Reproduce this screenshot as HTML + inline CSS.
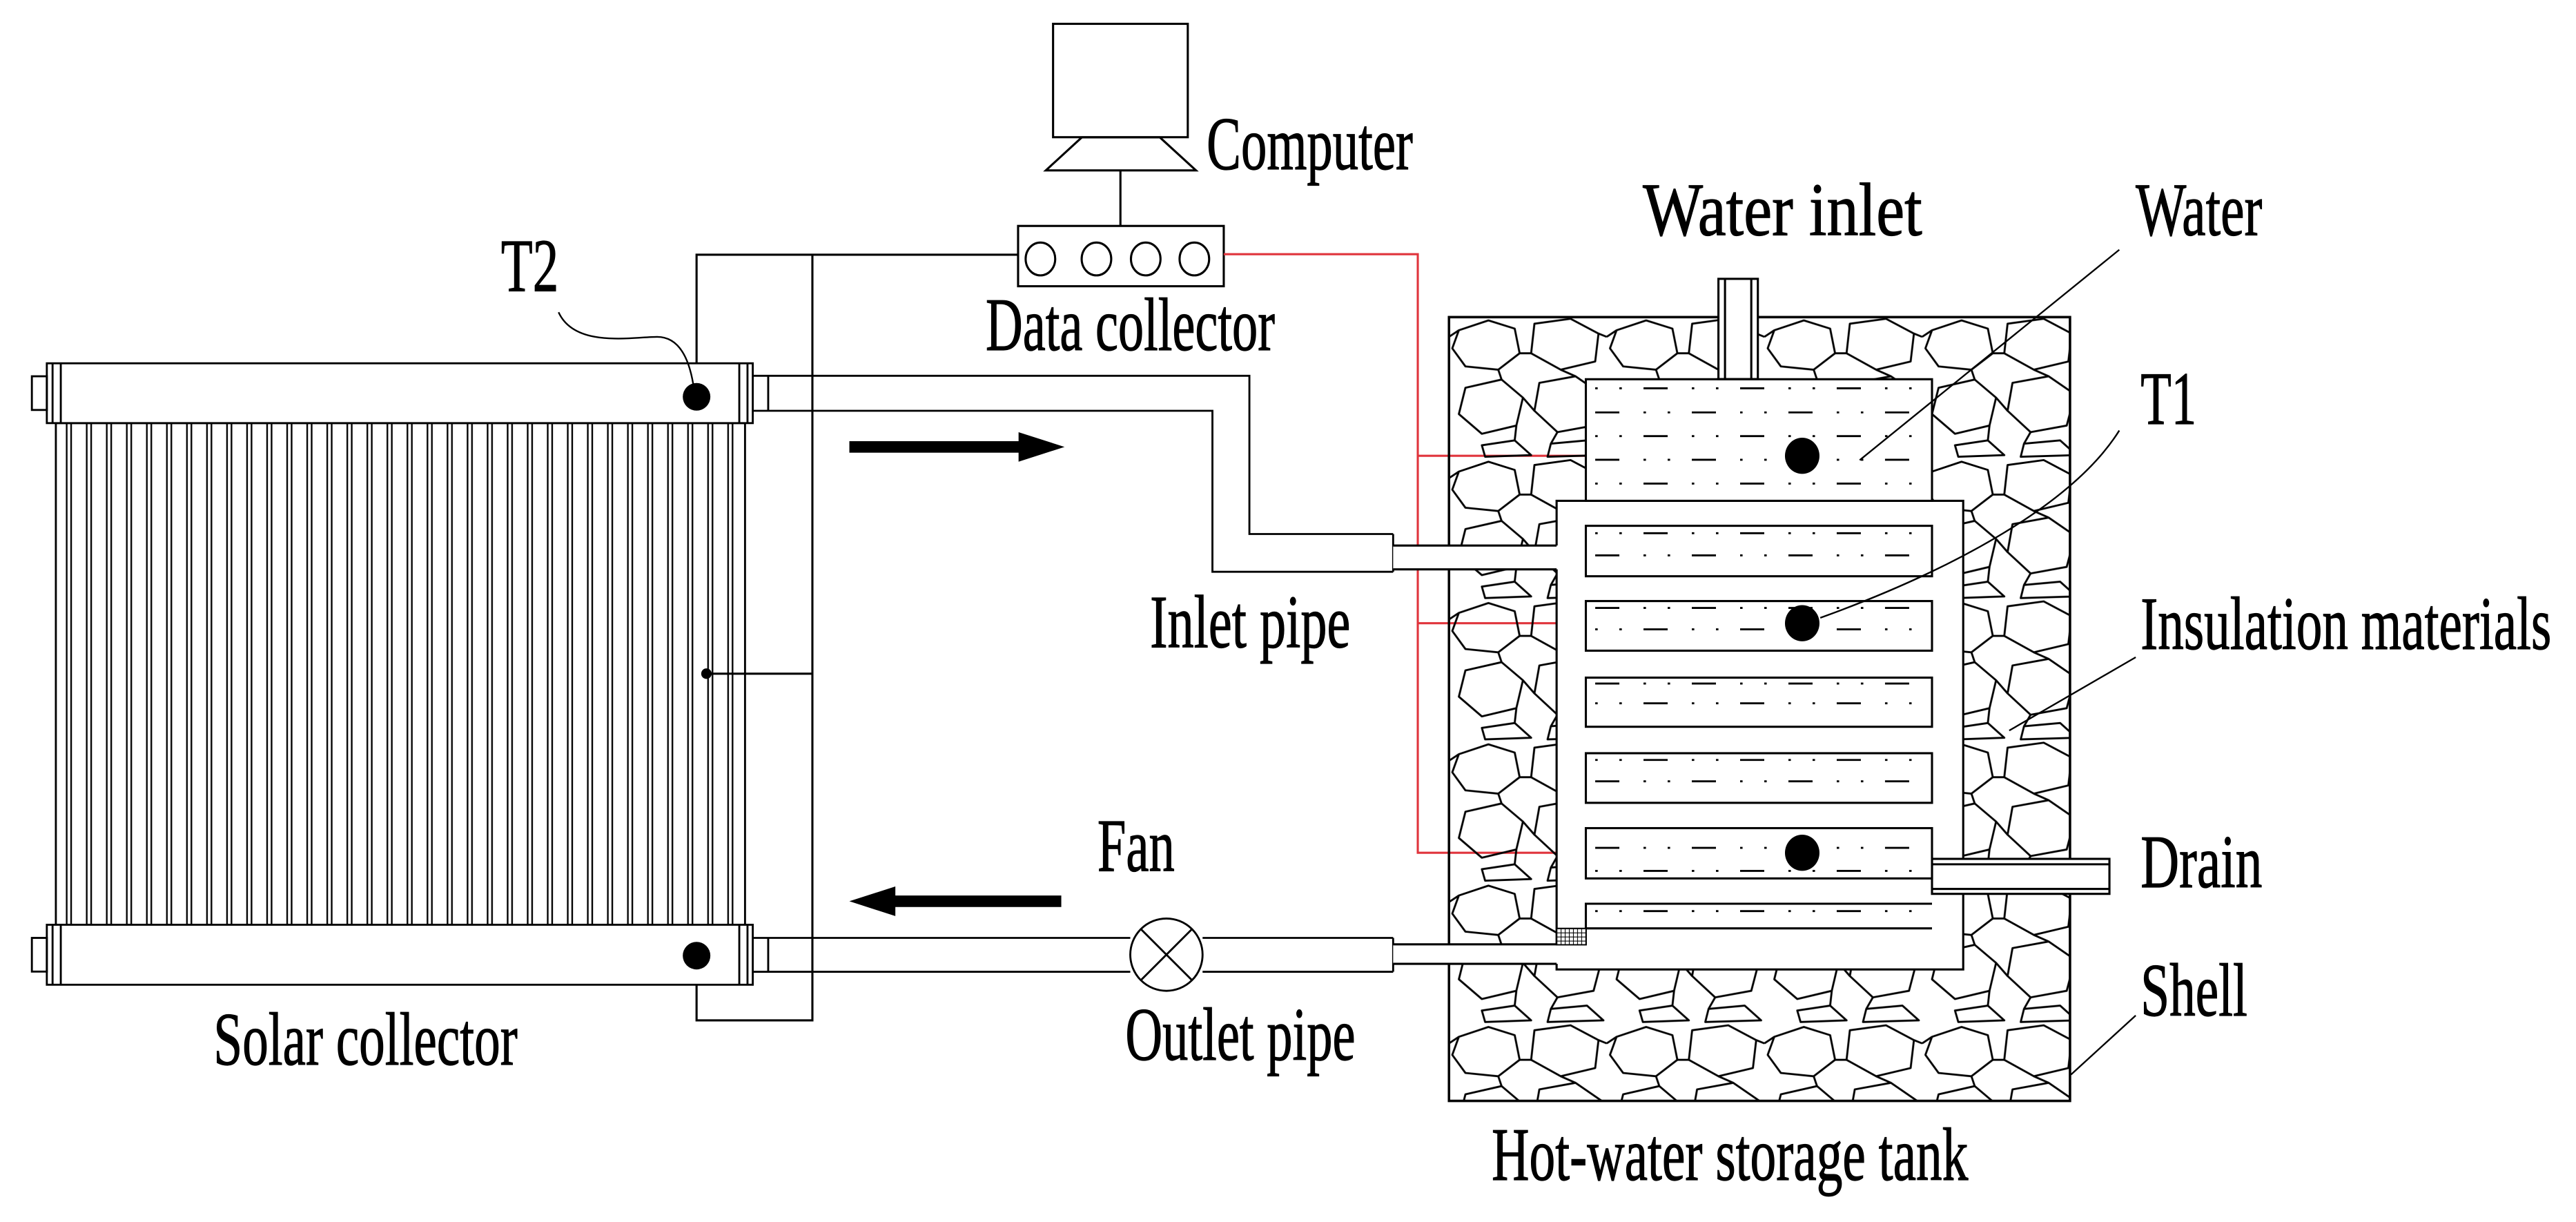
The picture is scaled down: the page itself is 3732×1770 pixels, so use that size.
<!DOCTYPE html>
<html><head><meta charset="utf-8"><style>html,body{margin:0;padding:0;background:#fff}svg{display:block}</style></head>
<body>
<svg width="3732" height="1770" viewBox="0 0 1568 743.7" preserveAspectRatio="none" xmlns="http://www.w3.org/2000/svg">
<defs>
<pattern id="tubes" x="40" y="0" width="12.2" height="20" patternUnits="userSpaceOnUse">
<line x1="0.6" y1="0" x2="0.6" y2="20" stroke="#000" stroke-width="1"/>
<line x1="3.3" y1="0" x2="3.3" y2="20" stroke="#000" stroke-width="1"/>
</pattern>
<pattern id="stone" x="882" y="193" width="96" height="86" patternUnits="userSpaceOnUse">
<g fill="none" stroke="#000" stroke-width="1.2" stroke-linejoin="round">
<polygon points="6,8 24,2 40,7 43,22 30,32 10,30 2,19"/>
<polygon points="52,4 74,1 91,10 89,27 68,32 50,22"/>
<polygon points="10,43 32,38 45,49 41,66 20,71 6,59"/>
<polygon points="55,40 77,36 93,47 88,66 66,70 52,57"/>
<polygon points="20,78 40,75 50,84 22,85"/>
<polygon points="62,77 84,75 94,84 60,85"/>
<line x1="43" y1="22" x2="50" y2="22"/><line x1="30" y1="32" x2="32" y2="38"/>
<line x1="68" y1="32" x2="77" y2="36"/><line x1="45" y1="49" x2="52" y2="57"/>
<line x1="41" y1="66" x2="40" y2="75"/><line x1="66" y1="70" x2="62" y2="77"/>
<line x1="91" y1="10" x2="96" y2="12"/><line x1="0" y1="12" x2="6" y2="8"/>
</g>
</pattern>
<pattern id="hatch" width="2.5" height="2.5" patternUnits="userSpaceOnUse"><rect width="2.5" height="2.5" fill="#fff"/><path d="M0 0H2.5M0 0V2.5" stroke="#000" stroke-width="0.9"/></pattern>
</defs>
<rect width="1568" height="743.7" fill="#fff"/>

<g fill="none" stroke="#000" stroke-width="1.3">
<rect x="641" y="14.5" width="82" height="69"/>
<polygon points="658.5,83.6 706,83.6 728,103.7 636.6,103.7"/>
<line x1="682" y1="103.7" x2="682" y2="137.5"/>
<rect x="619.7" y="137.5" width="125.2" height="36.7"/>
<ellipse cx="633.3" cy="157.6" rx="9" ry="10"/>
<ellipse cx="667.4" cy="157.6" rx="9" ry="10"/>
<ellipse cx="697.4" cy="157.6" rx="9" ry="10"/>
<ellipse cx="727" cy="157.6" rx="9" ry="10"/>
<polyline points="619.7,155 424,155 424,241"/>
<polyline points="494.5,155 494.5,621 424,621 424,582"/>
<line x1="430" y1="410" x2="494.5" y2="410"/>
</g>
<g fill="none" stroke="#e0343c" stroke-width="1.3">
<polyline points="744.9,154.7 863,154.7 863,519 1097,519"/>
<line x1="863" y1="277.4" x2="1097" y2="277.4"/>
<line x1="863" y1="379.3" x2="1097" y2="379.3"/>
</g>

<rect x="34" y="257.5" width="419.5" height="305.3" fill="url(#tubes)"/>
<g fill="none" stroke="#000" stroke-width="1.2">
<rect x="34" y="257.5" width="419.5" height="305.3"/>
<rect x="28.5" y="221.1" width="429.7" height="36.4" fill="#fff"/>
<rect x="28.5" y="562.8" width="429.7" height="36.5" fill="#fff"/>
<path d="M32 221.1V257.5M37 221.1V257.5M450 221.1V257.5M455 221.1V257.5M32 562.8V599.3M37 562.8V599.3M450 562.8V599.3M455 562.8V599.3"/>
<rect x="19.4" y="229" width="9.1" height="20.5"/>
<rect x="19.4" y="570.8" width="9.1" height="20.5"/>
<polyline points="458.2,228.7 760.5,228.7 760.5,325 848,325"/>
<polyline points="458.2,250 738,250 738,348 848,348"/>
<line x1="467.6" y1="228.7" x2="467.6" y2="250"/>
<line x1="848" y1="325" x2="848" y2="348"/>
<line x1="458.2" y1="570.8" x2="688" y2="570.8"/>
<line x1="458.2" y1="591.4" x2="688" y2="591.4"/>
<line x1="732" y1="570.8" x2="848" y2="570.8"/>
<line x1="732" y1="591.4" x2="848" y2="591.4"/>
<line x1="467.6" y1="570.8" x2="467.6" y2="591.4"/>
<line x1="848" y1="570.8" x2="848" y2="591.4"/>
<circle cx="710" cy="581" r="22"/>
<path d="M694.5 565.5L725.5 596.5M725.5 565.5L694.5 596.5"/>
</g>
<circle cx="424" cy="241.5" r="8.4"/>
<circle cx="424" cy="581.6" r="8.4"/>
<circle cx="430" cy="410" r="3.2"/>
<path d="M340 190 C350 212 385 205 400 205 C415 205 420 222 422 234" fill="none" stroke="#000" stroke-width="1"/>

<rect x="517" y="268.5" width="105" height="7"/>
<polygon points="620,263 648,272 620,281"/>
<rect x="543" y="545" width="103" height="7"/>
<polygon points="545,539.5 517,548.5 545,557.5"/>

<rect x="882" y="193" width="378" height="477" fill="url(#stone)" stroke="#000" stroke-width="1.5"/>
<g fill="#fff" stroke="#000" stroke-width="1.3">
<rect x="947.5" y="304.8" width="247.5" height="285.2"/>
<rect x="965.3" y="230.8" width="210.7" height="74"/>
<rect x="1046" y="169.7" width="24" height="61"/>
<line x1="1050" y1="169.7" x2="1050" y2="230.8"/><line x1="1066" y1="169.7" x2="1066" y2="230.8"/>
<rect x="1176" y="522.7" width="108" height="21.3"/>
<line x1="1176" y1="526" x2="1284" y2="526"/><line x1="1176" y1="541" x2="1284" y2="541"/>
<rect x="848" y="332" width="101" height="14.5" stroke="none"/>
<line x1="848" y1="332" x2="947.5" y2="332"/><line x1="848" y1="346.5" x2="947.5" y2="346.5"/>
<rect x="848" y="574.7" width="101" height="11.9" stroke="none"/>
<line x1="848" y1="574.7" x2="947.5" y2="574.7"/><line x1="848" y1="586.6" x2="947.5" y2="586.6"/>
<rect x="965.3" y="320" width="210.7" height="30.7"/>
<rect x="965.3" y="365.8" width="210.7" height="30.2"/>
<rect x="965.3" y="412.4" width="210.7" height="29.9"/>
<rect x="965.3" y="458.4" width="210.7" height="30.2"/>
<rect x="965.3" y="504" width="210.7" height="30.6"/>
<path d="M1176 550H965.3V565H1176"/>
</g>
<rect x="947.5" y="565" width="18" height="10" fill="url(#hatch)" stroke="#000" stroke-width="0.8"/>
<g stroke="#000" stroke-width="1.2" fill="none">
<g stroke-dasharray="1.5 13.2 1.5 13.2 14.7 14.7">
<line x1="971" y1="236.3" x2="1170" y2="236.3"/>
<line x1="971" y1="265.4" x2="1170" y2="265.4"/>
<line x1="971" y1="294.3" x2="1170" y2="294.3"/>
<line x1="971" y1="324.5" x2="1170" y2="324.5"/>
<line x1="971" y1="383" x2="1170" y2="383"/>
<line x1="971" y1="428" x2="1170" y2="428"/>
<line x1="971" y1="462.5" x2="1170" y2="462.5"/>
<line x1="971" y1="530" x2="1170" y2="530"/>
<line x1="971" y1="554.5" x2="1170" y2="554.5"/>
</g>
<g stroke-dasharray="14.7 14.7 1.5 13.2 1.5 13.2">
<line x1="971" y1="251" x2="1170" y2="251"/>
<line x1="971" y1="279.8" x2="1170" y2="279.8"/>
<line x1="971" y1="338" x2="1170" y2="338"/>
<line x1="971" y1="370" x2="1170" y2="370"/>
<line x1="971" y1="416" x2="1170" y2="416"/>
<line x1="971" y1="475.5" x2="1170" y2="475.5"/>
<line x1="971" y1="516" x2="1170" y2="516"/>
</g>
</g>
<ellipse cx="1097" cy="277.4" rx="10.5" ry="11"/>
<ellipse cx="1097" cy="379.3" rx="10.5" ry="11"/>
<ellipse cx="1097" cy="519" rx="10.5" ry="11"/>
<g fill="none" stroke="#000" stroke-width="1">
<line x1="1290" y1="152" x2="1132" y2="280"/>
<path d="M1290 262 C1260 310 1180 350 1108 376"/>
<line x1="1300" y1="400" x2="1223" y2="444.6"/>
<line x1="1300" y1="618" x2="1260.6" y2="654"/>
</g>

<g font-family="'Liberation Serif', serif" font-size="46" fill="#000" stroke="#000" stroke-width="0.5">
<text x="734.5" y="103" textLength="125.5" lengthAdjust="spacingAndGlyphs">Computer</text>
<text x="305" y="177" textLength="35" lengthAdjust="spacingAndGlyphs">T2</text>
<text x="600" y="213" textLength="176" lengthAdjust="spacingAndGlyphs">Data collector</text>
<text x="1000" y="143" textLength="170" lengthAdjust="spacingAndGlyphs">Water inlet</text>
<text x="1300" y="143" textLength="77" lengthAdjust="spacingAndGlyphs">Water</text>
<text x="1303" y="258" textLength="34" lengthAdjust="spacingAndGlyphs">T1</text>
<text x="1303" y="395" textLength="250" lengthAdjust="spacingAndGlyphs">Insulation materials</text>
<text x="1303" y="540" textLength="74" lengthAdjust="spacingAndGlyphs">Drain</text>
<text x="1303" y="618" textLength="65" lengthAdjust="spacingAndGlyphs">Shell</text>
<text x="700" y="394" textLength="122" lengthAdjust="spacingAndGlyphs">Inlet pipe</text>
<text x="668" y="530" textLength="47" lengthAdjust="spacingAndGlyphs">Fan</text>
<text x="685" y="645" textLength="140" lengthAdjust="spacingAndGlyphs">Outlet pipe</text>
<text x="130" y="648" textLength="185" lengthAdjust="spacingAndGlyphs">Solar collector</text>
<text x="908" y="718" textLength="290" lengthAdjust="spacingAndGlyphs">Hot-water storage tank</text>
</g>
</svg>
</body></html>
